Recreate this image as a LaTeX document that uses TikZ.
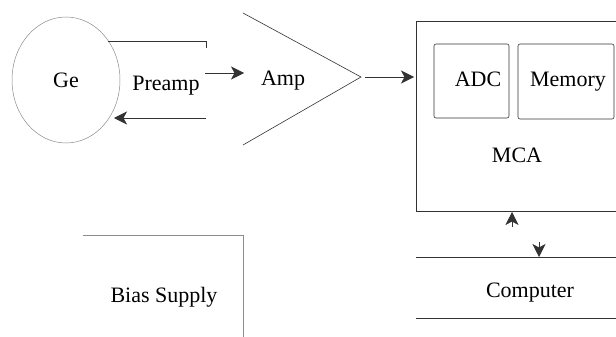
\documentclass[tikz,border=0pt]{standalone}
\usepackage{fontspec}
\setmainfont{Liberation Serif}
\usetikzlibrary{arrows.meta, positioning, shapes.geometric}

\begin{document}
\begin{tikzpicture}[x=1pt, y=-1pt, font=\rmfamily\fontsize{22}{24}\selectfont,
		wire/.style={black!80, line width=0.6pt},
		faint/.style={draw=black!45, line width=0.5pt},
		sig/.style={wire, -{Stealth[length=13pt, width=13pt, inset=3.5pt]}},
		txt/.style={anchor=base, inner sep=0pt}]
	\useasboundingbox (0,0) rectangle (616,337);

	% detector and preamp
	\node[ellipse, faint, text=black, minimum width=108pt, minimum height=126pt, inner sep=0pt] (ge) at (66,80) {Ge};
	\coordinate (pa-nw) at (108,41);
	\coordinate (pa-ne) at (206,41);
	\draw[wire] (pa-nw) -- (pa-ne) -- ++(0,7);
	\node[txt] (preamp) at (166,91) {Preamp};
	\coordinate (pa-out) at (205,73);
	\coordinate (pa-back) at (206,118);
	\coordinate (ge-in) at (114,118);

	% amplifier
	\coordinate (amp-top) at (243,13);
	\coordinate (amp-tip) at (361,77);
	\coordinate (amp-bot) at (243,145);
	\draw[wire] (amp-top) -- (amp-tip) -- (amp-bot);
	\node[txt] (amp) at (283,85) {Amp};
	\coordinate (amp-in) at (244,73);
	\coordinate (amp-out) at (365,77);

	% MCA with ADC and memory
	\coordinate (mca-ne) at (616,21);
	\coordinate (mca-sw) at (416,211);
	\coordinate (mca-se) at (616,211);
	\draw[wire] (mca-ne) -| (mca-sw) -- (mca-se);
	\draw[wire, rounded corners=2pt] (434,44) rectangle (509,118);
	\draw[wire, rounded corners=2pt] (518,44) rectangle (614,119);
	\node[txt] (adc) at (478,86) {ADC};
	\node[txt] (mem) at (568,86) {Memory};
	\node[txt] (mca) at (517,162) {MCA};
	\coordinate (mca-in) at (414,77);
	\coordinate (mca-bot) at (512,212);
	\coordinate (mca-down) at (539,242);

	% computer
	\draw[wire] (416,257) -- (616,257);
	\draw[wire] (416,318) -- (616,318);
	\node[txt] (comp) at (530,297) {Computer};
	\coordinate (comp-up) at (512,227);
	\coordinate (comp-top) at (539,257);

	% bias supply
	\draw[faint] (83,235) -| (243,337);
	\node[txt] (bias) at (164,302) {Bias Supply};

	% signal path
	\draw[sig] (pa-out) -- (amp-in);
	\draw[sig] (pa-back) -- (ge-in);
	\draw[sig] (amp-out) -- (mca-in);
	\draw[sig] (comp-up) -- (mca-bot);
	\draw[sig] (mca-down) -- (comp-top);
\end{tikzpicture}
\end{document}
